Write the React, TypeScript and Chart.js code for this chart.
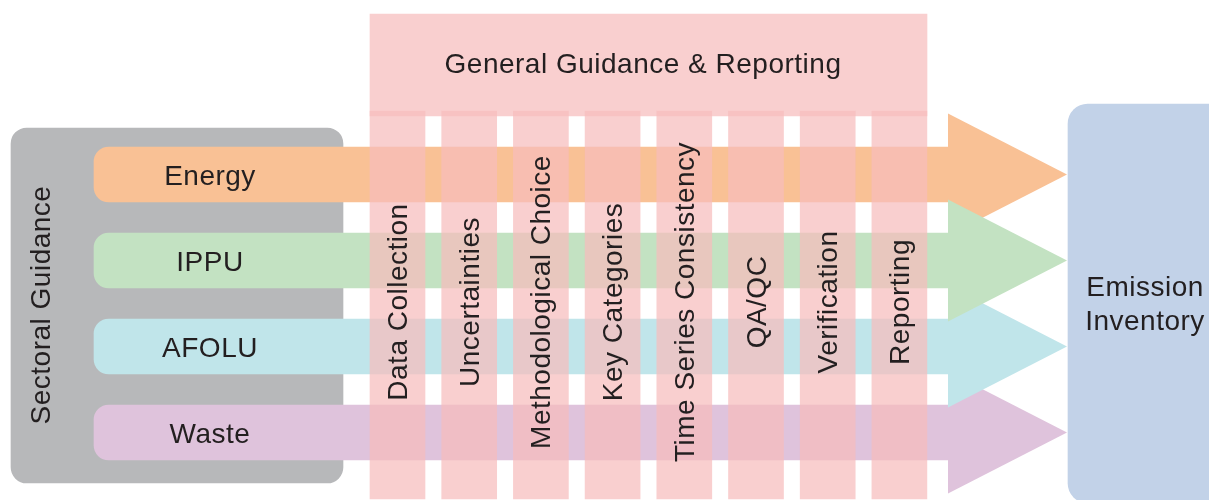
import React, { useEffect, useRef } from "react";
import { Chart, registerables } from "chart.js";

Chart.register(...registerables);

// ---- content ----
const sectorLabels = ["Energy", "IPPU", "AFOLU", "Waste"];
const stepLabels = [
  "Data Collection",
  "Uncertainties",
  "Methodological Choice",
  "Key Categories",
  "Time Series Consistency",
  "QA/QC",
  "Verification",
  "Reporting",
];
const headerLabel = "General Guidance & Reporting";
const sideLabel = "Sectoral Guidance";
const targetLabel = ["Emission", "Inventory"];

// ---- styles ----
const sectorColors = ["#f9c195", "#c3e2c2", "#c0e5ea", "#dfc3dc"];
const arrowOrder = [8, 5, 6, 7]; // green on top, then cyan, purple, orange
const pink = "rgba(247,189,189,0.72)";
const grayColor = "#b7b8ba";
const blueColor = "#c2d2e8";
const textColor = "#231f20";
const FONT = '28px "Liberation Sans", Arial, Helvetica, sans-serif';

// ---- layout (diagram units = pixels of a 1209 x 500 page) ----
const W = 1209;
const H = 500;
const rowCenter = (i: number) => 174.5 + 86 * i;
const bandH = 55;
const bandLeft = 94;
const bandRight = 948;
const headTip = 1067;
const headHalf = 61;
const colCenter = (j: number) => 397.5 + 71.7 * j;
const colW = 55;
const colTop = 111;
const colBottom = 499;
const header = { left: 370, right: 927, top: 14, bottom: 116 };
const grayBox = { left: 11, right: 343, top: 128, bottom: 483 };
const blueBox = { left: 1068, right: 1240, top: 104, bottom: 503 };

export default function App() {
  const ref = useRef<HTMLCanvasElement | null>(null);

  useEffect(() => {
    if (!ref.current) return;

    const textPlugin = {
      id: "diagramText",
      afterDatasetsDraw(chart: any) {
        const { ctx } = chart;
        const x = chart.scales.x;
        const y = chart.scales.y;
        const px = (v: number) => x.getPixelForValue(v);
        const py = (v: number) => y.getPixelForValue(v);
        ctx.save();
        ctx.fillStyle = textColor;
        ctx.font = FONT;
        try {
          (ctx as any).letterSpacing = "0.5px";
        } catch (e) {}
        ctx.textAlign = "center";
        ctx.textBaseline = "alphabetic";

        ctx.fillText(headerLabel, px(643), py(73));

        sectorLabels.forEach((s, i) => {
          ctx.fillText(s, px(210), py(rowCenter(i) + 10));
        });

        targetLabel.forEach((s, i) => {
          ctx.fillText(s, px(1145), py(296 + 34 * i));
        });

        const vtext = (s: string, cx: number, cy: number, off: number) => {
          ctx.save();
          ctx.translate(px(cx), py(cy));
          ctx.rotate(-Math.PI / 2);
          ctx.fillText(s, 0, off);
          ctx.restore();
        };
        stepLabels.forEach((s, j) => vtext(s, colCenter(j), 302, 9.5));
        vtext(sideLabel, 38.5, 305, 11.5);
        ctx.restore();
      },
    };

    const datasets: any[] = [
      {
        type: "bar",
        label: "sectoral",
        data: [{ x: (grayBox.left + grayBox.right) / 2, y: [grayBox.top, grayBox.bottom] }],
        barThickness: grayBox.right - grayBox.left,
        backgroundColor: grayColor,
        borderRadius: 16,
        borderSkipped: false,
        grouped: false,
        order: 10,
      },
      {
        type: "bar",
        label: "sectors",
        indexAxis: "y",
        data: sectorLabels.map((_, i) => ({ y: rowCenter(i), x: [bandLeft, bandRight] })),
        barThickness: bandH,
        backgroundColor: sectorColors,
        borderRadius: { topLeft: 15, bottomLeft: 15, topRight: 0, bottomRight: 0 },
        borderSkipped: false,
        grouped: false,
        order: 9,
      },
      ...sectorLabels.map((s, i) => ({
        type: "line",
        label: s + " arrow",
        data: [
          { x: bandRight, y: rowCenter(i) - headHalf },
          { x: headTip, y: rowCenter(i) },
          { x: bandRight, y: rowCenter(i) + headHalf },
        ],
        fill: "shape",
        backgroundColor: sectorColors[i],
        borderColor: "rgba(0,0,0,0)",
        borderWidth: 0,
        pointRadius: 0,
        tension: 0,
        order: arrowOrder[i],
      })),
      {
        type: "bar",
        label: "inventory",
        data: [{ x: (blueBox.left + blueBox.right) / 2, y: [blueBox.top, blueBox.bottom] }],
        barThickness: blueBox.right - blueBox.left,
        backgroundColor: blueColor,
        borderRadius: 20,
        borderSkipped: false,
        grouped: false,
        order: 4,
      },
      {
        type: "bar",
        label: "general",
        data: [{ x: (header.left + header.right) / 2, y: [header.top, header.bottom] }],
        barThickness: header.right - header.left,
        backgroundColor: pink,
        borderRadius: 0,
        borderSkipped: false,
        grouped: false,
        order: 3,
      },
      {
        type: "bar",
        label: "steps",
        data: stepLabels.map((_, j) => ({ x: colCenter(j), y: [colTop, colBottom] })),
        barThickness: colW,
        backgroundColor: pink,
        borderRadius: 0,
        borderSkipped: false,
        grouped: false,
        order: 2,
      },
    ];

    const chart = new Chart(ref.current, {
      type: "bar",
      data: { datasets },
      options: {
        responsive: false,
        animation: false,
        events: [],
        layout: { padding: 0 },
        plugins: { legend: { display: false }, tooltip: { enabled: false } },
        scales: {
          x: { type: "linear", min: 0, max: W, display: false, offset: false, grid: { offset: false } },
          y: { type: "linear", min: 0, max: H, reverse: true, display: false, offset: false, grid: { offset: false } },
        },
      } as any,
      plugins: [textPlugin],
    });
    return () => chart.destroy();
  }, []);

  return (
    <div style={{ position: "fixed", left: 0, top: 0, width: W, height: H, background: "#fff" }}>
      <canvas ref={ref} width={W} height={H} style={{ display: "block" }} />
    </div>
  );
}
